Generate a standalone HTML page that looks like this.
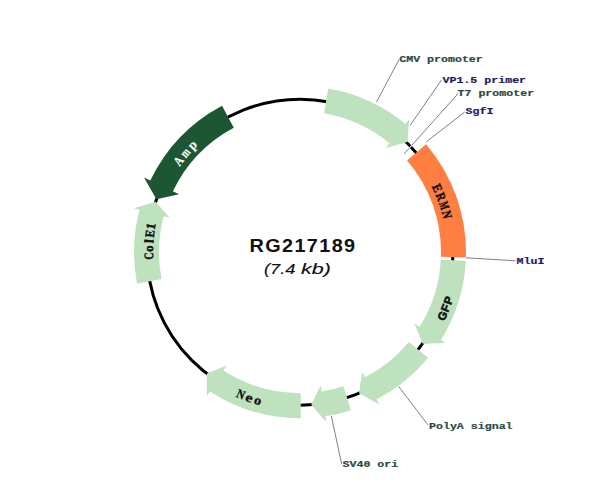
<!DOCTYPE html>
<html><head><meta charset="utf-8"><style>
html,body{margin:0;padding:0;background:#fff;}
body{width:600px;height:504px;overflow:hidden;}
svg{display:block;}
.lab{font-family:"Liberation Mono",monospace;font-weight:bold;font-size:11.4px;stroke-width:0.25px;}
.fn{font-family:"Liberation Mono",monospace;font-weight:bold;font-size:14px;stroke-width:0.15px;}
.lab2{font-family:"Liberation Serif",serif;font-weight:bold;font-size:9.1px;}
.fser{font-family:"Liberation Serif",serif;font-weight:bold;font-size:13px;stroke-width:0.45px;}
.fa{stroke-width:0.2px;}
.fneo{stroke-width:0.3px;}
.fs{font-family:"Liberation Sans",sans-serif;font-weight:bold;font-size:11.5px;stroke-width:0.6px;}
.title{font-family:"Liberation Sans",sans-serif;font-weight:bold;font-size:18.9px;fill:#111;letter-spacing:1.3px;}
.sub{font-family:"Liberation Sans",sans-serif;font-style:italic;font-size:15px;fill:#111;stroke:#111;stroke-width:0.15px;}
</style></head><body>
<svg width="600" height="504" viewBox="0 0 600 504">
<circle cx="300.00" cy="252.20" r="153.00" fill="none" stroke="#000" stroke-width="3"/>
<path d="M328.25,88.62 L324.00,113.26 A141.00,141.00 0 0 1 389.59,143.32 L385.65,148.11 L407.56,141.98 L409.10,119.62 L405.48,124.02 A166.00,166.00 0 0 0 328.25,88.62 Z" fill="#bee1be"/>
<path d="M426.04,144.17 L407.06,160.44 A141.00,141.00 0 0 1 440.93,256.63 L465.92,257.41 A166.00,166.00 0 0 0 426.04,144.17 Z" fill="#fe7f41"/>
<path d="M465.77,260.89 L440.81,259.58 A141.00,141.00 0 0 1 419.71,326.71 L414.44,323.43 L422.67,343.64 L445.77,342.93 L440.93,339.92 A166.00,166.00 0 0 0 465.77,260.89 Z" fill="#bee1be"/>
<path d="M428.09,357.79 L408.80,341.89 A141.00,141.00 0 0 1 365.11,377.27 L362.24,371.77 L359.04,393.35 L379.28,404.50 L376.65,399.44 A166.00,166.00 0 0 0 428.09,357.79 Z" fill="#bee1be"/>
<path d="M351.02,410.16 L343.34,386.37 A141.00,141.00 0 0 1 321.57,391.54 L320.62,385.41 L311.21,404.79 L326.27,421.88 L325.40,416.25 A166.00,166.00 0 0 0 351.02,410.16 Z" fill="#bee1be"/>
<path d="M300.87,418.20 L300.74,393.20 A141.00,141.00 0 0 1 223.41,370.59 L226.78,365.38 L206.86,373.58 L206.74,396.36 L209.83,391.58 A166.00,166.00 0 0 0 300.87,418.20 Z" fill="#bee1be"/>
<path d="M137.05,283.87 L161.59,279.10 A141.00,141.00 0 0 1 163.68,216.18 L169.67,217.77 L155.60,201.63 L134.00,208.34 L139.51,209.80 A166.00,166.00 0 0 0 137.05,283.87 Z" fill="#bee1be"/>
<path d="M222.07,105.63 L233.80,127.70 A141.00,141.00 0 0 0 172.84,191.28 L179.15,194.30 L156.41,199.37 L143.98,177.45 L150.30,180.47 A166.00,166.00 0 0 1 222.07,105.63 Z" fill="#1c5632"/>
<line x1="399.0" y1="59.7" x2="376.5" y2="102.0" stroke="#80808e" stroke-width="1"/>
<line x1="441.7" y1="79.7" x2="410.1" y2="125.4" stroke="#80808e" stroke-width="1"/>
<line x1="458.2" y1="93.5" x2="404.0" y2="154.0" stroke="#80808e" stroke-width="1"/>
<line x1="464.7" y1="112.0" x2="426.2" y2="142.0" stroke="#80808e" stroke-width="1"/>
<line x1="515.5" y1="260.8" x2="466.0" y2="257.8" stroke="#80808e" stroke-width="1"/>
<line x1="428.0" y1="425.0" x2="398.7" y2="386.5" stroke="#80808e" stroke-width="1"/>
<line x1="341.7" y1="464.3" x2="331.3" y2="415.8" stroke="#80808e" stroke-width="1"/>
<line x1="412.13" y1="144.92" x2="409.20" y2="148.20" stroke="#d8d8dc" stroke-width="1.1"/>
<text x="0" y="0" transform="translate(399.20,62.00) scale(1.020,0.820)" fill="#2a4a44" stroke="#2a4a44" class="lab">CMV promoter</text>
<text x="0" y="0" transform="translate(442.50,82.50) scale(1.020,0.820)" fill="#1c1c66" stroke="#1c1c66" class="lab">VP1.5 primer</text>
<text x="0" y="0" transform="translate(457.50,96.20) scale(1.020,0.820)" fill="#2a4a44" stroke="#2a4a44" class="lab">T7 promoter</text>
<text x="0" y="0" transform="translate(465.50,113.50) scale(1.020,0.820)" fill="#1c1c66" stroke="#1c1c66" class="lab">SgfI</text>
<text x="0" y="0" transform="translate(516.50,263.50) scale(1.020,0.820)" fill="#1c1c66" stroke="#1c1c66" class="lab">MluI</text>
<text x="0" y="0" transform="translate(429.00,428.80) scale(1.020,0.820)" fill="#2a4a44" stroke="#2a4a44" class="lab">PolyA signal</text>
<text x="0" y="0" transform="translate(342.50,466.80) scale(1.020,0.820)" fill="#2a4a44" stroke="#2a4a44" class="lab">SV40 ori</text>
<text x="0" y="0" transform="translate(181.82,163.44) rotate(306.91) scale(0.852,1.000)" text-anchor="middle" fill="#ffffff" stroke="#ffffff" class="fser fa">A</text>
<text x="0" y="0" transform="translate(188.28,155.43) rotate(310.90) scale(0.739,1.000)" text-anchor="middle" fill="#ffffff" stroke="#ffffff" class="fser fa">m</text>
<text x="0" y="0" transform="translate(195.29,147.89) rotate(314.89) scale(1.000,1.000)" text-anchor="middle" fill="#ffffff" stroke="#ffffff" class="fser fa">p</text>
<text x="0" y="0" transform="translate(153.05,256.02) rotate(268.51) scale(0.767,1.000)" text-anchor="middle" fill="#111111" stroke="#111111" class="fser">C</text>
<text x="0" y="0" transform="translate(153.04,248.72) rotate(271.35) scale(1.000,1.000)" text-anchor="middle" fill="#111111" stroke="#111111" class="fser">o</text>
<text x="0" y="0" transform="translate(153.39,241.43) rotate(274.20) scale(1.000,1.000)" text-anchor="middle" fill="#111111" stroke="#111111" class="fser">l</text>
<text x="0" y="0" transform="translate(154.11,234.17) rotate(277.05) scale(0.830,1.000)" text-anchor="middle" fill="#111111" stroke="#111111" class="fser">E</text>
<text x="0" y="0" transform="translate(155.18,226.95) rotate(279.89) scale(1.000,1.000)" text-anchor="middle" fill="#111111" stroke="#111111" class="fser">1</text>
<text x="0" y="0" transform="translate(433.33,189.82) rotate(64.93) scale(0.876,1.000)" text-anchor="middle" fill="#111111" stroke="#111111" class="fser">E</text>
<text x="0" y="0" transform="translate(436.97,198.27) rotate(68.51) scale(0.810,1.000)" text-anchor="middle" fill="#111111" stroke="#111111" class="fser">R</text>
<text x="0" y="0" transform="translate(440.07,206.93) rotate(72.09) scale(0.619,1.000)" text-anchor="middle" fill="#111111" stroke="#111111" class="fser">M</text>
<text x="0" y="0" transform="translate(442.62,215.77) rotate(75.67) scale(0.810,1.000)" text-anchor="middle" fill="#111111" stroke="#111111" class="fser">N</text>
<text x="0" y="0" transform="translate(446.16,317.30) rotate(-65.99) scale(1.000,1.000)" text-anchor="middle" fill="#111111" stroke="#111111" class="fs">G</text>
<text x="0" y="0" transform="translate(449.37,309.54) rotate(-69.00) scale(1.000,1.000)" text-anchor="middle" fill="#111111" stroke="#111111" class="fs">F</text>
<text x="0" y="0" transform="translate(452.18,301.62) rotate(-72.01) scale(1.000,1.000)" text-anchor="middle" fill="#111111" stroke="#111111" class="fs">P</text>
<text x="0" y="0" transform="translate(239.30,398.40) rotate(22.55) scale(0.852,1.000)" text-anchor="middle" fill="#111111" stroke="#111111" class="fser fneo">N</text>
<text x="0" y="0" transform="translate(247.94,401.69) rotate(19.20) scale(1.248,1.000)" text-anchor="middle" fill="#111111" stroke="#111111" class="fser fneo">e</text>
<text x="0" y="0" transform="translate(256.76,404.48) rotate(15.85) scale(1.108,1.000)" text-anchor="middle" fill="#111111" stroke="#111111" class="fser fneo">o</text>
<text x="0" y="0" transform="translate(249.6,251.7) scale(1.05,1)" class="title">RG217189</text>
<text x="0" y="0" transform="translate(264.00,273.9) scale(1.222,1)" class="sub">(7.4</text>
<text x="0" y="0" transform="translate(301.00,273.9) scale(1.430,1)" class="sub">kb)</text>
</svg>
</body></html>
